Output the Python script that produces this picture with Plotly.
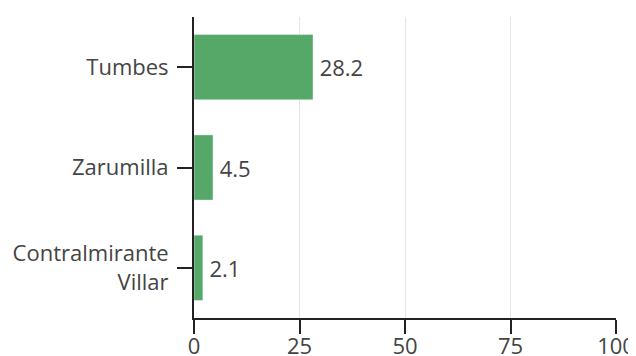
import plotly.graph_objects as go

provinces = ["Tumbes", "Zarumilla", "Contralmirante<br>Villar"]
values = [28.2, 4.5, 2.1]
x_ticks = [0, 25, 50, 75, 100]

fig = go.Figure(go.Bar(
    x=values,
    y=provinces,
    orientation="h",
    marker=dict(color="#55a868"),
    text=[f"\u2009{v:.1f}" for v in values],
    textposition="outside",
    textfont=dict(size=22, color="#444"),
    cliponaxis=False,
))

# page body adds ~8px offset, so margins are shifted to compensate
fig.update_layout(
    width=636, height=356,
    margin=dict(l=186, r=28, t=9, b=46, autoexpand=False),
    plot_bgcolor="white", paper_bgcolor="white",
    font=dict(family="Open Sans", size=22, color="#444"),
    bargap=0.35,
    showlegend=False,
)
fig.update_xaxes(
    range=[0, 100], tickvals=x_ticks, automargin=False,
    tickfont=dict(size=22),
    showgrid=True, gridcolor="#e5e5e5", gridwidth=1,
    showline=True, linecolor="#222", linewidth=2,
    ticks="outside", ticklen=14, tickwidth=2, tickcolor="#222",
    ticklabelstandoff=-6,
    zeroline=False,
)
fig.update_yaxes(
    autorange="reversed", automargin=False,
    tickfont=dict(size=22),
    showline=True, linecolor="#222", linewidth=2,
    ticks="outside", ticklen=15, tickwidth=2, tickcolor="#222",
    ticklabelstandoff=4,
    showgrid=False,
)

fig.write_html("out.html")
